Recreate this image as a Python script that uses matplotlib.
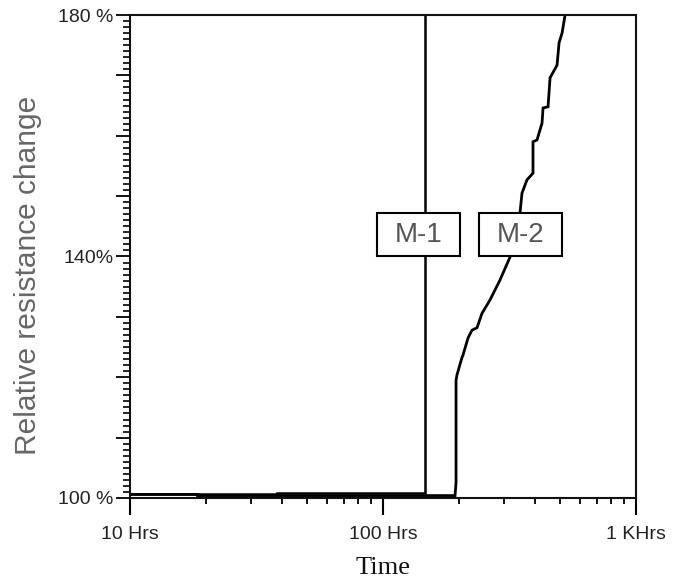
import matplotlib
matplotlib.use("Agg")
import matplotlib.pyplot as plt
from matplotlib.patches import Rectangle
from matplotlib.ticker import FixedLocator, MultipleLocator, NullFormatter, FixedFormatter

# ---- data ----
m1_time = [10, 38, 38, 146.6, 146.6]
m1_value = [100.6, 100.6, 100.8, 100.8, 185]

m2_time = [10, 18.5, 18.5, 192.6, 194.4, 194.4, 196.1, 205.3, 207.2, 216.8, 224.8,
           235.3, 246.3, 264.8, 290.0, 317.7, 347.9, 354.3, 370.8, 391.6, 391.6,
           406.2, 425.2, 429.1, 449.1, 457.4, 487.5, 496.5, 510.2, 524.3]
m2_value = [100.6, 100.6, 100.4, 100.4, 102.5, 119.5, 120.4, 123.3, 123.7, 126.5, 127.8,
            128.2, 130.6, 132.8, 136.1, 139.9, 147.2, 150.5, 152.7, 153.8, 159.0,
            159.3, 162.1, 164.6, 164.8, 169.6, 171.7, 175.4, 177.0, 180.0]

series_labels = ["M-1", "M-2"]

x_ticks = [10, 100, 1000]
x_ticklabels = ["10 Hrs", "100 Hrs", "1 KHrs"]
y_major = [100, 110, 120, 130, 140, 150, 160, 170, 180]
y_ticklabels = ["100 %", "", "", "", "140%", "", "", "", "180 %"]

# label box layout (axes fraction): x0, y0, width, height
box_layout = [(0.488, 0.501, 0.164, 0.089), (0.690, 0.501, 0.164, 0.089)]

# ---- figure ----
fig = plt.figure(figsize=(6.74, 5.86), dpi=100)
ax = fig.add_axes([130/674, 1 - 498/586, (636-130)/674, (498-15)/586])

ax.plot(m1_time, m1_value, color="black", lw=1.8, solid_joinstyle="miter")
ax.plot(m2_time, m2_value, color="black", lw=2.0, solid_joinstyle="miter")

ax.set_xscale("log")
ax.set_xlim(10, 1000)
ax.set_ylim(100, 180)

for s in ax.spines.values():
    s.set_linewidth(1.5)
    s.set_color("#111111")

sans = ["Liberation Sans", "DejaVu Sans"]

ax.xaxis.set_major_locator(FixedLocator(x_ticks))
ax.xaxis.set_major_formatter(FixedFormatter(x_ticklabels))
ax.xaxis.set_minor_locator(FixedLocator([m * 10**e for e in (1, 2) for m in range(2, 10)]))
ax.xaxis.set_minor_formatter(NullFormatter())
ax.tick_params(axis="x", which="major", direction="out", length=12, width=1.5, pad=8)
ax.tick_params(axis="x", which="minor", direction="out", length=4, width=1.3)

ax.yaxis.set_major_locator(FixedLocator(y_major))
ax.yaxis.set_major_formatter(FixedFormatter(y_ticklabels))
ax.yaxis.set_minor_locator(MultipleLocator(1))
ax.tick_params(axis="y", which="major", direction="out", length=10, width=1.3, pad=2)
ax.tick_params(axis="y", which="minor", direction="out", length=5, width=1.2)

for lab in ax.get_xticklabels() + ax.get_yticklabels():
    lab.set_fontfamily(sans)
    lab.set_fontsize(14)
    lab.set_color("#222222")

ax.set_ylabel("Relative resistance change", fontsize=21.5, family=sans, color="#666666")
ax.yaxis.set_label_coords((28 - 130) / 506, (498 - 275) / 483)
ax.set_xlabel("Time", fontsize=19, family=["Liberation Serif", "DejaVu Serif"],
              color="#111111")
ax.xaxis.set_label_coords(0.5, -(568 - 498) / 483)
ax.xaxis.label.set_va("center")
ax.yaxis.label.set_va("center")

for text, (x0, y0, w, h) in zip(series_labels, box_layout):
    ax.add_patch(Rectangle((x0, y0), w, h, transform=ax.transAxes, fc="white",
                           ec="black", lw=1.5, zorder=4))
    ax.text(x0 + w / 2, y0 + h / 2, text, transform=ax.transAxes, ha="center",
            va="center", fontsize=20, family=sans, color="#555555", zorder=5)

fig.savefig("out.png", dpi=100)
